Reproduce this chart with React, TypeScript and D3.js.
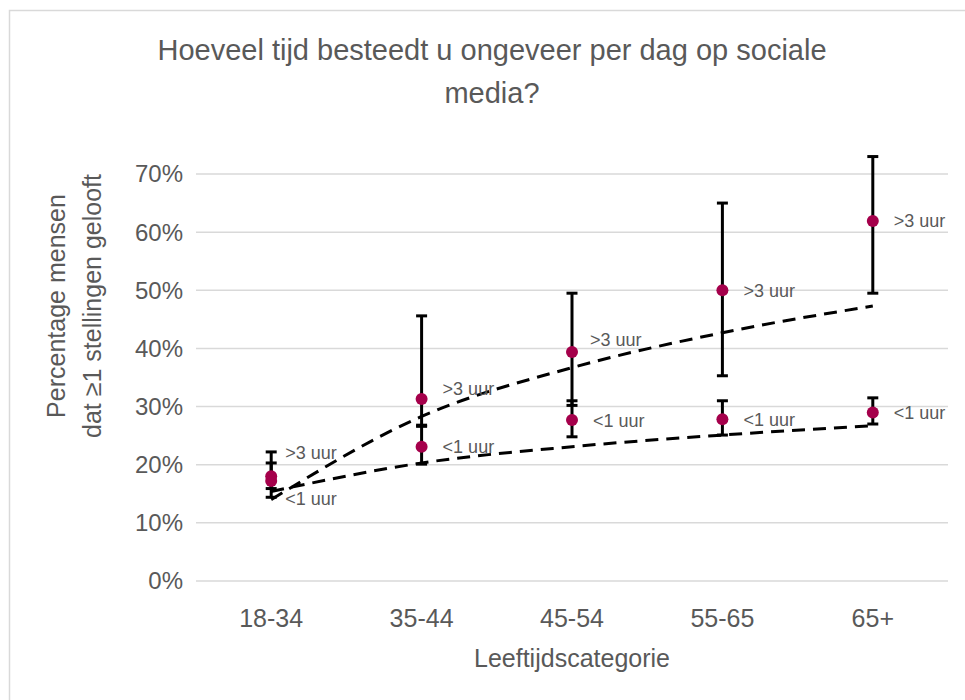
import React from "react";
import * as d3 from "d3";

const categories = ["18-34", "35-44", "45-54", "55-65", "65+"];
const seriesNames = [">3 uur", "<1 uur"];

const highValues = [18.0, 31.3, 39.4, 50.0, 61.9];
const highLow = [14.4, 26.8, 30.2, 35.3, 49.5];
const highHigh = [22.2, 45.6, 49.5, 65.0, 73.0];

const lowValues = [17.2, 23.1, 27.7, 27.8, 29.0];
const lowLow = [15.9, 20.1, 24.8, 25.1, 27.0];
const lowHigh = [20.3, 26.6, 31.0, 31.0, 31.5];

// logarithmic trendline values read at each category
const highTrend = [14.0, 28.3, 36.7, 42.7, 47.3];
const lowTrend = [15.4, 20.3, 23.1, 25.1, 26.7];

const yTicks = [0, 10, 20, 30, 40, 50, 60, 70];

const titleLines = ["Hoeveel tijd besteedt u ongeveer per dag op sociale", "media?"];
const yTitleLines = ["Percentage mensen", "dat \u22651 stellingen gelooft"];
const xTitle = "Leeftijdscategorie";

// label placement tweaks (layout, not data)
const highLabelShift = [
  { dx: 14, dy: -24 },
  { dx: 21, dy: -10 },
  { dx: 18, dy: -12 },
  { dx: 21, dy: 0 },
  { dx: 21, dy: 0 },
];
const lowLabelShift = [
  { dx: 14, dy: 18 },
  { dx: 21, dy: 0 },
  { dx: 21, dy: 1 },
  { dx: 21, dy: 0 },
  { dx: 21, dy: 0 },
];

const FONT = "'Liberation Sans', Arial, sans-serif";
const TEXT = "#595959";
const GRID = "#d9d9d9";
const DOT = "#A5004B";

export default function App() {
  const W = 965;
  const H = 700;
  const left = 196;
  const right = 948;
  const top = 174;
  const bottom = 581;

  const x = d3.scaleBand<string>().domain(categories).range([left, right]);
  const cx = (i: number) => (x(categories[i]) as number) + x.bandwidth() / 2;
  const y = d3.scaleLinear().domain([0, 70]).range([bottom, top]);

  const line = d3
    .line<number>()
    .x((_, i) => cx(i))
    .y((d) => y(d))
    .curve(d3.curveMonotoneX);

  const series = [
    { name: seriesNames[0], v: highValues, lo: highLow, hi: highHigh, trend: highTrend, shift: highLabelShift },
    { name: seriesNames[1], v: lowValues, lo: lowLow, hi: lowHigh, trend: lowTrend, shift: lowLabelShift },
  ];

  const capHalf = 5.5;

  return (
    <svg
      width={W}
      height={H}
      style={{ position: "absolute", left: 0, top: 0, background: "#fff" }}
      fontFamily={FONT}
    >
      <rect x={9.5} y={10.5} width={W + 10} height={H + 10} fill="#fff" stroke={GRID} strokeWidth={1.5} />

      {titleLines.map((t, i) => (
        <text key={t} x={492} y={60 + i * 43} textAnchor="middle" fontSize={29} fill={TEXT}>
          {t}
        </text>
      ))}

      {yTicks.map((t) => (
        <g key={t}>
          <line x1={left} x2={right} y1={y(t)} y2={y(t)} stroke={GRID} strokeWidth={1.5} />
          <text x={183} y={y(t)} dy="0.35em" textAnchor="end" fontSize={24} fill={TEXT}>
            {t}%
          </text>
        </g>
      ))}

      {categories.map((c, i) => (
        <text key={c} x={cx(i)} y={627} textAnchor="middle" fontSize={25} fill={TEXT}>
          {c}
        </text>
      ))}

      <text x={(left + right) / 2} y={667} textAnchor="middle" fontSize={25} fill={TEXT}>
        {xTitle}
      </text>

      {yTitleLines.map((t, i) => (
        <text
          key={t}
          transform={`translate(${65 + i * 36},306) rotate(-90)`}
          textAnchor="middle"
          fontSize={25}
          fill={TEXT}
        >
          {t}
        </text>
      ))}

      {series.map((s) => (
        <path
          key={s.name + "trend"}
          d={line(s.trend) || ""}
          fill="none"
          stroke="#000"
          strokeWidth={3}
          strokeDasharray="13 8"
        />
      ))}

      {series.map((s) => (
        <g key={s.name + "err"}>
          {s.v.map((_, i) => (
            <g key={i}>
              <line x1={cx(i)} x2={cx(i)} y1={y(s.lo[i])} y2={y(s.hi[i])} stroke="#000" strokeWidth={3} />
              <line x1={cx(i) - capHalf} x2={cx(i) + capHalf} y1={y(s.lo[i])} y2={y(s.lo[i])} stroke="#000" strokeWidth={3} />
              <line x1={cx(i) - capHalf} x2={cx(i) + capHalf} y1={y(s.hi[i])} y2={y(s.hi[i])} stroke="#000" strokeWidth={3} />
            </g>
          ))}
        </g>
      ))}

      {series.map((s) => (
        <g key={s.name + "dots"}>
          {s.v.map((v, i) => (
            <circle key={i} cx={cx(i)} cy={y(v)} r={6} fill={DOT} />
          ))}
        </g>
      ))}

      {series.map((s) => (
        <g key={s.name + "labels"}>
          {s.v.map((v, i) => (
            <text
              key={i}
              x={cx(i) + s.shift[i].dx}
              y={y(v) + s.shift[i].dy}
              dy="0.35em"
              fontSize={18}
              fill={TEXT}
            >
              {s.name}
            </text>
          ))}
        </g>
      ))}
    </svg>
  );
}
